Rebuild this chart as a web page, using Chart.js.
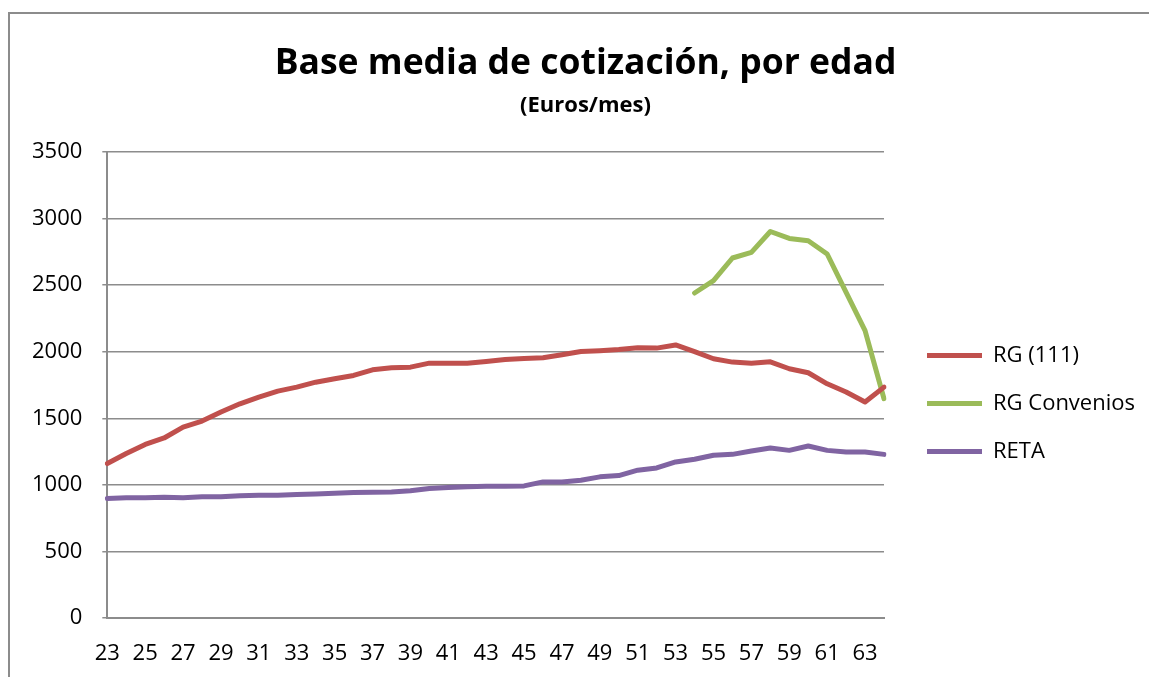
<!DOCTYPE html>
<html>
<head>
<meta charset="utf-8">
<script src="https://cdn.jsdelivr.net/npm/chart.js@4/dist/chart.umd.min.js"></script>
<style>
  html, body { margin: 0; padding: 0; background: #fff; }
  #wrap { width: 1149px; height: 677px; }
</style>
</head>
<body>
<div id="wrap"><canvas id="chart" width="1149" height="677"></canvas></div>
<script>
// edades 23..64
const ages = [];
for (let a = 23; a <= 64; a++) ages.push(String(a));

const rgGeneral = [
  1160, 1235, 1304, 1352, 1434, 1479, 1547, 1609, 1659, 1704,
  1734, 1771, 1797, 1822, 1864, 1879, 1884, 1914, 1914, 1914,
  1926, 1941, 1949, 1954, 1977, 2001, 2007, 2016, 2029, 2027,
  2051, 2001, 1947, 1922, 1914, 1924, 1872, 1842, 1759, 1697,
  1622, 1734
];

const rgConvenios = [
  null, null, null, null, null, null, null, null, null, null,
  null, null, null, null, null, null, null, null, null, null,
  null, null, null, null, null, null, null, null, null, null,
  null, 2441, 2534, 2704, 2746, 2903, 2851, 2834, 2734, 2446,
  2159, 1647
];

const reta = [
  897, 903, 903, 907, 903, 910, 910, 918, 922, 922,
  927, 932, 937, 942, 945, 947, 955, 972, 980, 985,
  990, 990, 992, 1022, 1022, 1035, 1060, 1070, 1110, 1127,
  1172, 1192, 1222, 1229, 1254, 1277, 1259, 1292, 1259, 1247,
  1247, 1229
];

const yTicks = [0, 500, 1000, 1500, 2000, 2500, 3000, 3500];

const font = "'Open Sans', 'Liberation Sans', sans-serif";
const gridColor = "#8c8c8c";

// fondo blanco + marco exterior del gráfico
const frame = {
  id: "frame",
  beforeDraw(chart) {
    const ctx = chart.ctx;
    ctx.save();
    ctx.fillStyle = "#fff";
    ctx.fillRect(0, 0, chart.width, chart.height);
    ctx.strokeStyle = gridColor;
    ctx.lineWidth = 2;
    ctx.strokeRect(9, 13, 1300, 800);
    ctx.restore();
  },
};

function line(label, data, color) {
  return {
    label,
    data,
    borderColor: color,
    backgroundColor: color,
    borderWidth: 5,
    borderCapStyle: "round",
    borderJoinStyle: "round",
    pointRadius: 0,
    pointHoverRadius: 0,
    tension: 0,
    spanGaps: false,
  };
}

new Chart(document.getElementById("chart"), {
  type: "line",
  data: {
    labels: ages,
    datasets: [
      line("RG (111)", rgGeneral, "#C0504D"),
      line("RG Convenios", rgConvenios, "#9BBB59"),
      line("RETA", reta, "#8064A2"),
    ],
  },
  plugins: [frame],
  options: {
    responsive: false,
    animation: false,
    events: [],
    layout: { padding: { top: 13, left: 27, right: 5, bottom: 4 } },
    plugins: {
      title: {
        display: true,
        text: "Base media de cotización, por edad",
        color: "#000",
        font: { family: font, size: 35.5, weight: "bold" },
        padding: { top: 30, bottom: 0 },
      },
      subtitle: {
        display: true,
        text: "(Euros/mes)",
        color: "#000",
        font: { family: font, size: 22, weight: "bold" },
        padding: { top: 7, bottom: 33 },
      },
      legend: {
        position: "right",
        maxWidth: 243,
        // título vacío: solo baja las entradas de la leyenda
        title: {
          display: true,
          text: "",
          color: "#000",
          font: { family: font, size: 20 },
          padding: { top: 0, bottom: 97 },
        },
        labels: {
          color: "#000",
          font: { family: font, size: 22 },
          boxWidth: 55,
          boxHeight: 5,
          padding: 26,
          generateLabels(chart) {
            return chart.data.datasets.map((ds, i) => ({
              text: ds.label,
              fillStyle: ds.borderColor,
              strokeStyle: ds.borderColor,
              fontColor: "#000",
              lineWidth: 0,
              datasetIndex: i,
            }));
          },
        },
      },
      tooltip: { enabled: false },
    },
    scales: {
      x: {
        grid: { display: false },
        border: { display: true, color: gridColor, width: 2 },
        ticks: {
          color: "#000",
          font: { family: font, size: 22 },
          autoSkip: false,
          maxRotation: 0,
          padding: 15,
          callback(v, i) { return i % 2 === 0 ? ages[i] : ""; },
        },
        afterFit(s) { s.height = 55; },
      },
      y: {
        min: 0,
        max: 3500,
        afterBuildTicks(s) { s.ticks = yTicks.map(v => ({ value: v })); },
        grid: { color: gridColor, lineWidth: 1.5, tickLength: 5 },
        border: { display: true, color: gridColor, width: 2 },
        ticks: {
          color: "#000",
          font: { family: font, size: 22 },
          padding: 20,
          callback(v) { return String(v); },
        },
        afterFit(s) { s.width -= 15; },
      },
      // hueco entre el área de trazado y la leyenda
      y2: {
        position: "right",
        display: false,
        afterFit(s) { s.width = 17; },
      },
    },
  },
});
</script>
</body>
</html>
